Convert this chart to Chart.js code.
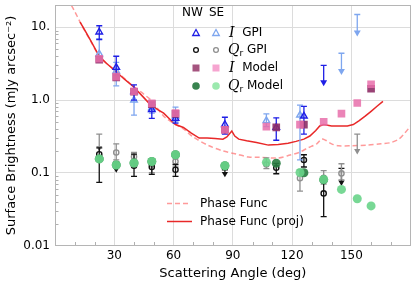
<!DOCTYPE html>
<html><head><meta charset="utf-8">
<script src="https://cdn.jsdelivr.net/npm/chart.js@4/dist/chart.umd.min.js"></script>
<style>html,body{margin:0;padding:0;background:#fff}#wrap{width:416px;height:281px}</style>
</head><body><div id="wrap"><canvas id="c" width="416" height="281"></canvas></div>
<script>
// ---- data ----
const angNWI = [22.4, 31, 40, 49, 61, 86, 112, 126];
const valNWI = [8.6, 2.8, 1.3, 0.74, 0.56, 0.46, 0.42, 0.6];
const loNWI  = [6.8, 2.2, 1.0, 0.56, 0.48, 0.34, 0.28, 0.34];
const hiNWI  = [10.5, 4.0, 1.62, 0.92, 0.68, 0.58, 0.57, 0.82];

const angSEI = [22.4, 31, 40, 49, 61, 107, 124];
const valSEI = [4.3, 2.5, 1.0, 0.78, 0.6, 0.52, 0.62];
const loSEI  = [3.3, 1.57, 0.62, 0.66, 0.5, 0.43, 0.15];
const hiSEI  = [6.9, 3.3, 1.3, 0.9, 0.8, 0.645, 0.85];

const angNWIul = [136], capNWIul = [3.0], tipNWIul = [1.75];
const angSEIul = [145, 153], capSEIul = [4.4, 15], tipSEIul = [2.5, 8.5];

const angNWQ = [22.4, 40, 49, 61, 112, 126, 136];
const valNWQ = [0.18, 0.125, 0.12, 0.11, 0.117, 0.15, 0.052];
const loNWQ  = [0.074, 0.089, 0.095, 0.089, 0.097, 0.12, 0.025];
const hiNWQ  = [0.22, 0.18, 0.14, 0.13, 0.135, 0.177, 0.08];

const angSEQ = [31, 40, 49, 61, 107, 124, 136, 145];
const valSEQ = [0.19, 0.166, 0.13, 0.143, 0.13, 0.084, 0.085, 0.098];
const loSEQ  = [0.15, 0.13, 0.1, 0.12, 0.114, 0.056, 0.07, 0.08];
const hiSEQ  = [0.25, 0.19, 0.15, 0.16, 0.16, 0.11, 0.107, 0.133];

const angNWQul = [31, 86, 145], capNWQul = [0.14, 0.11, 0.115], tipNWQul = [0.112, 0.097, 0.074];
const angSEQul = [22.4, 153], capSEQul = [0.34, 0.34], tipSEQul = [0.22, 0.2];

const angNWM = [22.4, 31, 40, 49, 61, 86, 112, 126, 160];
const valNWM = [3.6, 2.05, 1.3, 0.88, 0.645, 0.39, 0.42, 0.46, 1.43];
const angSEM = [22.4, 31, 40, 49, 61, 86, 107, 124, 136, 145, 153, 160];
const valSEM = [3.7, 2.1, 1.32, 0.9, 0.66, 0.39, 0.43, 0.46, 0.50, 0.65, 0.91, 1.65];

const angNWQM = [22.4, 31, 40, 49, 61, 86, 112, 126, 136];
const valNWQM = [0.155, 0.128, 0.136, 0.143, 0.177, 0.125, 0.135, 0.1, 0.08];
const angSEQM = [22.4, 31, 40, 49, 61, 86, 107, 124, 136, 145, 153, 160];
const valSEQM = [0.155, 0.128, 0.136, 0.143, 0.177, 0.125, 0.139, 0.101, 0.081, 0.059, 0.044, 0.035];

const angPF = [8.3, 10, 12.7, 15, 18, 22.4, 26, 31, 35, 40, 45, 49, 55, 60, 65, 70, 78, 85, 92, 98, 103, 113, 119, 123.5, 128, 132.5, 135, 137, 140, 143.6, 150, 158, 165, 170, 174, 177, 180];
const valPF = [20, 16.5, 11.8, 9.0, 6.5, 4.0, 3.2, 2.5, 2.0, 1.52, 1.2, 0.97, 0.6, 0.48, 0.40, 0.31, 0.235, 0.2, 0.18, 0.165, 0.163, 0.16, 0.175, 0.19, 0.22, 0.25, 0.29, 0.28, 0.25, 0.235, 0.235, 0.24, 0.25, 0.26, 0.29, 0.35, 0.44];

const angPFP = [12.7, 15, 18, 22.4, 26, 31, 35, 40, 44, 48, 52, 55, 58, 61, 65, 69, 73, 77, 81, 85, 87, 89.5, 91, 93, 97, 102, 108, 113, 118, 122, 126, 129, 132, 134, 136, 140, 144, 148, 151, 154, 157, 160, 163, 166];
const valPFP = [11.8, 9.2, 6.6, 4.0, 3.2, 2.45, 1.95, 1.5, 1.15, 0.88, 0.74, 0.66, 0.55, 0.46, 0.42, 0.35, 0.30, 0.30, 0.295, 0.29, 0.31, 0.375, 0.32, 0.29, 0.275, 0.26, 0.24, 0.245, 0.255, 0.27, 0.29, 0.32, 0.38, 0.44, 0.46, 0.44, 0.44, 0.44, 0.46, 0.52, 0.6, 0.7, 0.82, 0.96];

const yTicks = [0.01, 0.1, 1, 10];
const yTickLabels = ['0.01', '0.1', '1.0', '10.'];
const xTickLabels = [30, 60, 90, 120, 150];

// ---- colors ----
const cNWI = '#1f1fe6', cSEI = '#7ea6ef', cNWQ = '#111111', cSEQ = '#8f8f8f';
const cNWM = 'rgba(142,45,102,0.9)', cSEM = 'rgba(232,110,170,0.85)';
const cNWQM = 'rgba(40,125,65,0.9)', cSEQM = 'rgba(105,212,138,0.9)';

const pts = (a, v) => a.map((x, i) => ({x: x, y: v[i]}));

const errPlugin = {
  id: 'err',
  beforeDatasetDraw(chart, args) {
    const ds = chart.data.datasets[args.index];
    if (!ds.errLo && !ds.capTop) return;
    const ctx = chart.ctx, xs = chart.scales.x, ys = chart.scales.y, ca = chart.chartArea;
    ctx.save();
    ctx.beginPath(); ctx.rect(ca.left, ca.top, ca.right - ca.left, ca.bottom - ca.top); ctx.clip();
    ctx.strokeStyle = ds.errColor; ctx.lineWidth = 1.3;
    ds.data.forEach((p, i) => {
      const x = xs.getPixelForValue(p.x);
      let top, bot, caps = [];
      if (ds.errLo) { top = ys.getPixelForValue(ds.errHi[i]); bot = ys.getPixelForValue(ds.errLo[i]); caps = [top, bot]; }
      else { top = ys.getPixelForValue(ds.capTop[i]); bot = ys.getPixelForValue(p.y); caps = [top]; }
      ctx.beginPath(); ctx.moveTo(x, top); ctx.lineTo(x, bot); ctx.stroke();
      caps.forEach(c => { ctx.beginPath(); ctx.moveTo(x - 3, c); ctx.lineTo(x + 3, c); ctx.stroke(); });
    });
    ctx.restore();
  }
};

const decoPlugin = {
  id: 'deco',
  afterDraw(chart) {
    const ctx = chart.ctx, xs = chart.scales.x, ys = chart.scales.y, ca = chart.chartArea;
    ctx.save();
    // minor ticks
    ctx.strokeStyle = '#b0b0b0'; ctx.lineWidth = 1;
    for (let d = -2; d <= 1; d++) {
      for (let m = 2; m <= 9; m++) {
        const v = m * Math.pow(10, d);
        if (v > 20) continue;
        const y = Math.round(ys.getPixelForValue(v)) + 0.5;
        ctx.beginPath(); ctx.moveTo(ca.left, y); ctx.lineTo(ca.left + 3.5, y); ctx.stroke();
      }
    }
    for (let a = 10; a < 180; a += 10) {
      if (a % 30 === 0) continue;
      const x = Math.round(xs.getPixelForValue(a)) + 0.5;
      ctx.beginPath(); ctx.moveTo(x, ca.bottom); ctx.lineTo(x, ca.bottom - 3.5); ctx.stroke();
    }
    // frame
    ctx.strokeStyle = '#b5b5b5'; ctx.lineWidth = 1;
    ctx.strokeRect(Math.round(ca.left) + 0.5, Math.round(ca.top) + 0.5, Math.round(ca.right - ca.left) - 1, Math.round(ca.bottom - ca.top));

    // legend 1
    ctx.fillStyle = '#000'; ctx.textBaseline = 'middle'; ctx.textAlign = 'left';
    ctx.font = '12px "DejaVu Sans"';
    ctx.fillText('NW', 182, 13); ctx.fillText('SE', 209, 13);
    const rows = [33, 50, 68, 86];
    const colNW = 196, colSE = 216;
    const tri = (x, y, col) => { ctx.beginPath(); ctx.moveTo(x, y - 3.5); ctx.lineTo(x + 3.3, y + 2.5); ctx.lineTo(x - 3.3, y + 2.5); ctx.closePath(); ctx.strokeStyle = col; ctx.lineWidth = 1.3; ctx.stroke(); };
    tri(colNW, rows[0], cNWI); tri(colSE, rows[0], cSEI);
    const ocirc = (x, y, col) => { ctx.beginPath(); ctx.arc(x, y, 2.4, 0, Math.PI * 2); ctx.strokeStyle = col; ctx.lineWidth = 1.3; ctx.stroke(); };
    ocirc(colNW, rows[1], cNWQ); ocirc(colSE, rows[1], cSEQ);
    ctx.fillStyle = 'rgba(160,75,120,0.95)'; ctx.fillRect(colNW - 3.5, rows[2] - 3.5, 7, 7);
    ctx.fillStyle = 'rgba(246,160,205,0.95)'; ctx.fillRect(colSE - 3.5, rows[2] - 3.5, 7, 7);
    ctx.fillStyle = 'rgba(45,125,70,0.95)'; ctx.beginPath(); ctx.arc(colNW, rows[3], 3.8, 0, Math.PI * 2); ctx.fill();
    ctx.fillStyle = 'rgba(150,232,170,0.95)'; ctx.beginPath(); ctx.arc(colSE, rows[3], 3.8, 0, Math.PI * 2); ctx.fill();
    const label = (sym, sub, rest, x, y) => {
      ctx.fillStyle = '#000';
      ctx.font = 'italic 14px "DejaVu Serif"';
      ctx.fillText(sym, x, y);
      let w = ctx.measureText(sym).width;
      if (sub) { ctx.font = '9px "DejaVu Sans"'; ctx.fillText(sub, x + w, y + 4); w += ctx.measureText(sub).width; }
      ctx.font = '12px "DejaVu Sans"';
      ctx.fillText(rest, x + w, y);
    };
    label('I', '', '  GPI', 229, rows[0]);
    label('Q', 'r', ' GPI', 228, rows[1]);
    label('I', '', '  Model', 229, rows[2]);
    label('Q', 'r', ' Model', 228, rows[3]);

    // legend 2
    ctx.lineWidth = 1.5;
    ctx.strokeStyle = 'rgba(255,120,120,0.75)'; ctx.setLineDash([5, 3]);
    ctx.beginPath(); ctx.moveTo(167, 203.5); ctx.lineTo(191, 203.5); ctx.stroke();
    ctx.setLineDash([]);
    ctx.strokeStyle = '#e82828';
    ctx.beginPath(); ctx.moveTo(167, 221.5); ctx.lineTo(192, 221.5); ctx.stroke();
    ctx.fillStyle = '#000'; ctx.font = '12px "DejaVu Sans"';
    ctx.fillText('Phase Func', 200, 203.5);
    ctx.fillText('Phase Func (proj)', 200, 221.5);
    ctx.restore();
  }
};

Chart.defaults.font.family = '"DejaVu Sans"';
Chart.defaults.color = '#000';

const mk = (label, a, v, style, extra) => Object.assign({label, data: pts(a, v), showLine: false, pointHoverRadius: 0}, style, extra || {});

const datasets = [
  mk('I Model SE', angSEM, valSEM, {pointStyle: 'rect', pointRadius: 5.4, backgroundColor: cSEM, borderWidth: 0}),
  mk('I Model NW', angNWM, valNWM, {pointStyle: 'rect', pointRadius: 5.4, backgroundColor: cNWM, borderWidth: 0}),
  mk('Qr Model SE', angSEQM, valSEQM, {pointStyle: 'circle', pointRadius: 4.5, backgroundColor: cSEQM, borderWidth: 0}),
  mk('Qr Model NW', angNWQM, valNWQM, {pointStyle: 'circle', pointRadius: 4.5, backgroundColor: cNWQM, borderWidth: 0}),
  mk('I GPI NW', angNWI, valNWI, {pointStyle: 'triangle', pointRadius: 3.8, backgroundColor: 'rgba(255,255,255,0)', borderColor: cNWI, borderWidth: 1.4}, {errLo: loNWI, errHi: hiNWI, errColor: cNWI}),
  mk('I GPI SE', angSEI, valSEI, {pointStyle: 'triangle', pointRadius: 3.8, backgroundColor: 'rgba(255,255,255,0)', borderColor: cSEI, borderWidth: 1.4}, {errLo: loSEI, errHi: hiSEI, errColor: cSEI}),
  mk('Qr GPI NW', angNWQ, valNWQ, {pointStyle: 'circle', pointRadius: 2.6, backgroundColor: 'rgba(255,255,255,0)', borderColor: cNWQ, borderWidth: 1.4}, {errLo: loNWQ, errHi: hiNWQ, errColor: cNWQ}),
  mk('Qr GPI SE', angSEQ, valSEQ, {pointStyle: 'circle', pointRadius: 2.6, backgroundColor: 'rgba(255,255,255,0)', borderColor: cSEQ, borderWidth: 1.4}, {errLo: loSEQ, errHi: hiSEQ, errColor: cSEQ}),
  mk('I UL NW', angNWIul, tipNWIul, {pointStyle: 'triangle', rotation: 180, pointRadius: 4, backgroundColor: cNWI, borderWidth: 0}, {capTop: capNWIul, errColor: cNWI}),
  mk('I UL SE', angSEIul, tipSEIul, {pointStyle: 'triangle', rotation: 180, pointRadius: 4, backgroundColor: cSEI, borderWidth: 0}, {capTop: capSEIul, errColor: cSEI}),
  mk('Qr UL NW', angNWQul, tipNWQul, {pointStyle: 'triangle', rotation: 180, pointRadius: 3.6, backgroundColor: cNWQ, borderWidth: 0}, {capTop: capNWQul, errColor: cNWQ}),
  mk('Qr UL SE', angSEQul, tipSEQul, {pointStyle: 'triangle', rotation: 180, pointRadius: 3.6, backgroundColor: cSEQ, borderWidth: 0}, {capTop: capSEQul, errColor: cSEQ}),
  {label: 'Phase Func (proj)', data: pts(angPFP, valPFP), showLine: true, pointRadius: 0, borderColor: '#e82828', borderWidth: 1.5, tension: 0},
  {label: 'Phase Func', data: pts(angPF, valPF), showLine: true, pointRadius: 0, borderColor: 'rgba(255,120,120,0.75)', borderWidth: 1.5, borderDash: [5, 3], tension: 0.3}
];

new Chart(document.getElementById('c'), {
  type: 'scatter',
  data: {datasets},
  plugins: [errPlugin, decoPlugin],
  options: {
    responsive: false, animation: false,
    layout: {padding: {top: 3, right: 4, left: 0, bottom: 0}},
    plugins: {legend: {display: false}, tooltip: {enabled: false}},
    scales: {
      x: {
        type: 'linear', min: 0, max: 180,
        afterBuildTicks: s => { s.ticks = [0].concat(xTickLabels, [180]).map(v => ({value: v})); },
        ticks: {font: {size: 12}, padding: 3, maxRotation: 0, autoSkip: false,
          callback: v => xTickLabels.includes(v) ? String(v) : ''},
        grid: {color: '#dcdcdc', drawTicks: false},
        border: {display: false},
        title: {display: true, text: 'Scattering Angle (deg)', font: {size: 13}, padding: {top: 1, bottom: 0}},
        afterFit: s => { s.height = 35.5; s.paddingLeft = 0; s.paddingRight = 0; }
      },
      y: {
        type: 'logarithmic', min: 0.01, max: 20,
        afterBuildTicks: s => { s.ticks = yTicks.map(v => ({value: v})); },
        ticks: {font: {size: 12}, padding: 5, autoSkip: false,
          callback: v => { const i = yTicks.findIndex(t => Math.abs(t - v) / t < 1e-6); return i >= 0 ? yTickLabels[i] : ''; }},
        grid: {color: '#dcdcdc', drawTicks: false},
        border: {display: false},
        title: {display: true, text: 'Surface Brightness (mJy arcsec\u207B\u00B2)', font: {size: 13}, padding: {top: 4, bottom: 0}},
        afterFit: s => { s.width = 55; s.paddingTop = 0; s.paddingBottom = 0; }
      }
    }
  }
});
</script></body></html>
